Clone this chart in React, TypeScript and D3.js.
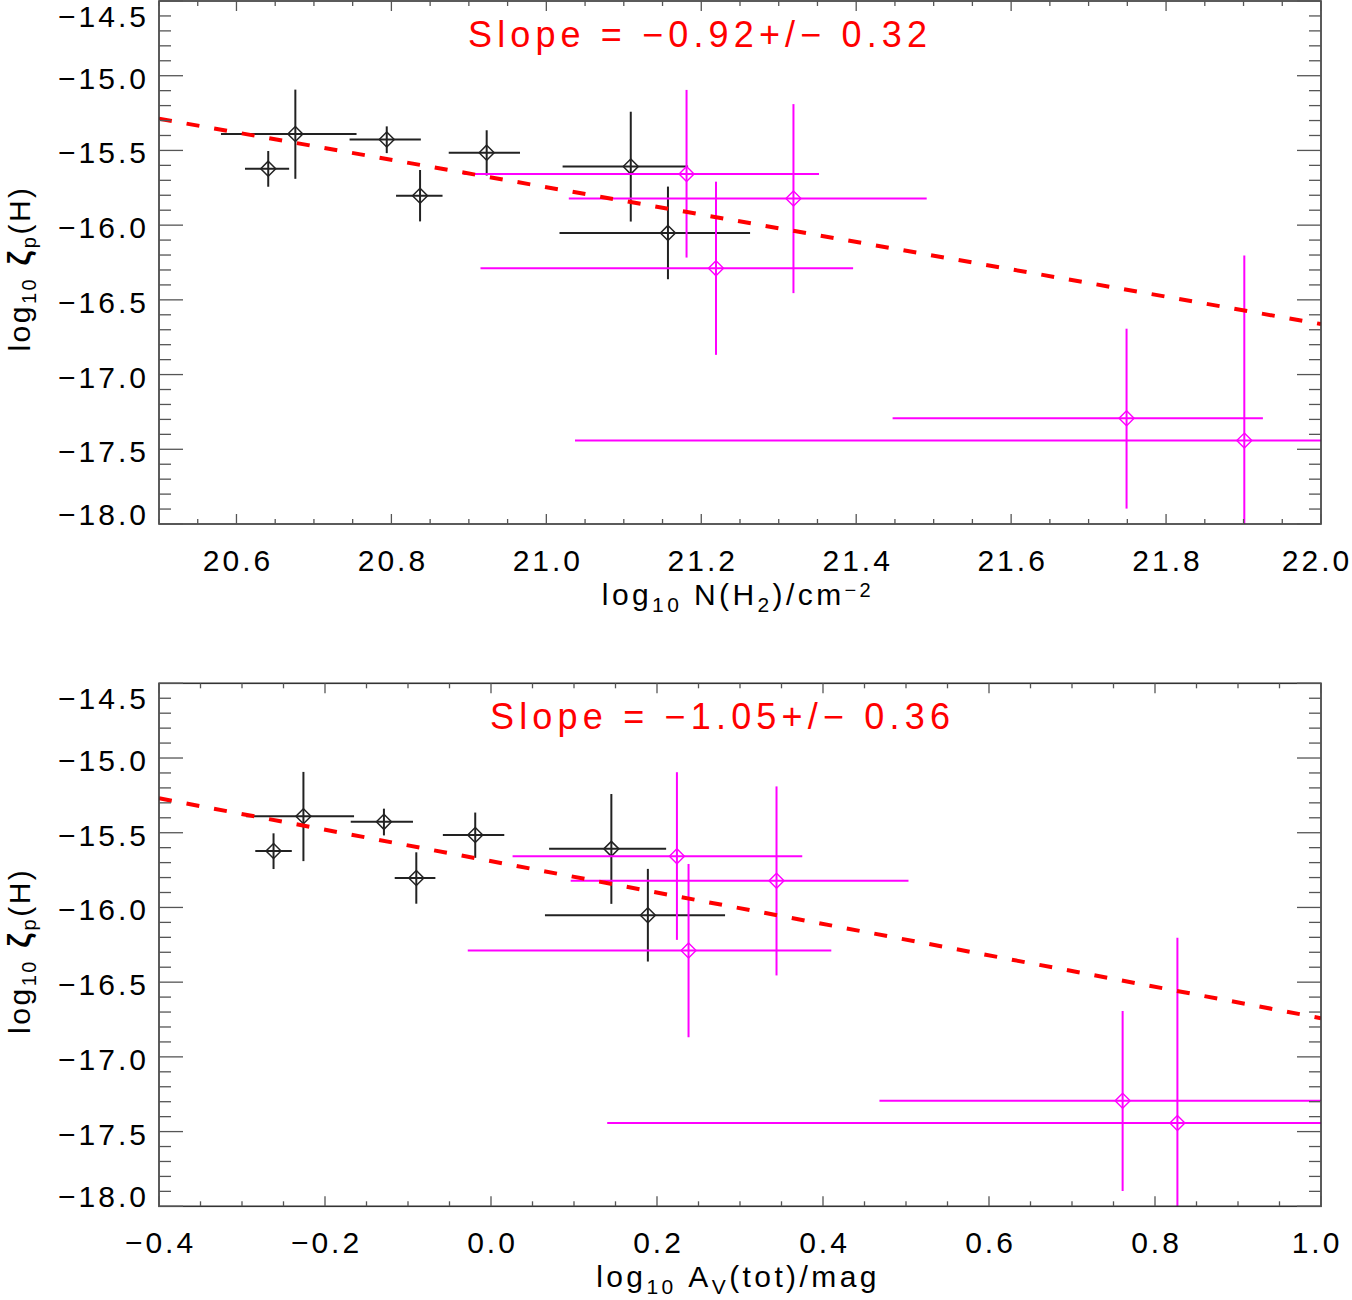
import React, { useRef, useEffect } from 'react';
import * as d3 from 'd3';

// log10 zeta_p(H) -- same values in both panels
const zetaBlack = [-15.622, -15.39, -15.427, -15.803, -15.515, -15.608, -16.052];
const zetaBlackLo = [-15.743, -15.69, -15.518, -15.975, -15.668, -15.976, -16.362];
const zetaBlackHi = [-15.504, -15.093, -15.339, -15.631, -15.365, -15.241, -15.742];
const zetaMag = [-15.657, -15.822, -16.288, -17.293, -17.442];
const zetaMagLo = [-16.217, -16.455, -16.868, -17.897, -18.4];
const zetaMagHi = [-15.095, -15.19, -15.709, -16.693, -16.203];

// log10 N(H2)
const nh2Black = [20.641, 20.676, 20.794, 20.837, 20.923, 21.109, 21.157];
const nh2BlackLo = [20.611, 20.58, 20.746, 20.806, 20.874, 21.021, 21.017];
const nh2BlackHi = [20.668, 20.755, 20.838, 20.866, 20.966, 21.183, 21.263];
const nh2Mag = [21.181, 21.319, 21.219, 21.749, 21.901];
const nh2MagLo = [20.893, 21.029, 20.915, 21.447, 21.037];
const nh2MagHi = [21.352, 21.491, 21.396, 21.925, 22.2];

// log10 Av(tot)
const avBlack = [-0.262, -0.226, -0.129, -0.09, -0.019, 0.145, 0.189];
const avBlackLo = [-0.284, -0.295, -0.169, -0.116, -0.058, 0.07, 0.065];
const avBlackHi = [-0.24, -0.165, -0.094, -0.067, 0.016, 0.211, 0.282];
const avMag = [0.224, 0.344, 0.238, 0.761, 0.827];
const avMagLo = [0.026, 0.096, -0.028, 0.468, 0.14];
const avMagHi = [0.375, 0.503, 0.41, 1.03, 1.2];

// linear fits
const fitNH2Slope = -0.916;
const fitNH2Intercept = 3.49;
const fitAvSlope = -1.051;
const fitAvIntercept = -15.69;

const slopeLabels = ['Slope = \u22120.92+/\u2212 0.32', 'Slope = \u22121.05+/\u2212 0.36'];

const xTicksNH2 = [20.6, 20.8, 21.0, 21.2, 21.4, 21.6, 21.8, 22.0];
const xTicksAv = [-0.4, -0.2, 0.0, 0.2, 0.4, 0.6, 0.8, 1.0];
const yTicks = [-14.5, -15.0, -15.5, -16.0, -16.5, -17.0, -17.5, -18.0];

const W = 1162;
const H = 523;
const LEFT = 159;
const FONT = "'Liberation Sans', Arial, sans-serif";

const App: React.FC = () => {
  const svgRef = useRef<SVGSVGElement | null>(null);

  useEffect(() => {
    const svg = d3.select(svgRef.current);
    svg.selectAll('*').remove();

    const panels = [
      {
        top: 1, xDomain: [20.5, 22.0], xTicks: xTicksNH2, xMinorStep: 0.05,
        black: { x: nh2Black, lo: nh2BlackLo, hi: nh2BlackHi },
        mag: { x: nh2Mag, lo: nh2MagLo, hi: nh2MagHi },
        slope: fitNH2Slope, intercept: fitNH2Intercept,
        label: slopeLabels[0], labelX: 468 - LEFT, labelLen: 459,
        xTitle: 'nh2',
      },
      {
        top: 683.3, xDomain: [-0.4, 1.0], xTicks: xTicksAv, xMinorStep: 0.05,
        black: { x: avBlack, lo: avBlackLo, hi: avBlackHi },
        mag: { x: avMag, lo: avMagLo, hi: avMagHi },
        slope: fitAvSlope, intercept: fitAvIntercept,
        label: slopeLabels[1], labelX: 490 - LEFT, labelLen: 460,
        xTitle: 'av',
      },
    ];

    const fmt = d3.format('.1f');

    panels.forEach((p, pi) => {
      const g = svg.append('g').attr('transform', `translate(${LEFT},${p.top})`);
      const x = d3.scaleLinear().domain(p.xDomain).range([0, W]);
      const y = d3.scaleLinear().domain([-18.0, -14.5]).range([H, 0]);

      const clipId = `clip-${pi}`;
      g.append('clipPath').attr('id', clipId)
        .append('rect').attr('width', W).attr('height', H);

      const plot = g.append('g').attr('clip-path', `url(#${clipId})`);

      const drawSeries = (
        s: { x: number[]; lo: number[]; hi: number[] },
        ys: number[], ylo: number[], yhi: number[],
        color: string, lw: number, dw: number,
      ) => {
        const pts = s.x.map((xv, i) => ({
          x: xv, xlo: s.lo[i], xhi: s.hi[i], y: ys[i], ylo: ylo[i], yhi: yhi[i],
        }));
        const sg = plot.append('g');
        sg.selectAll('.hbar').data(pts).enter().append('line')
          .attr('x1', d => x(d.xlo)).attr('x2', d => x(d.xhi))
          .attr('y1', d => y(d.y)).attr('y2', d => y(d.y))
          .attr('stroke', color).attr('stroke-width', lw);
        sg.selectAll('.vbar').data(pts).enter().append('line')
          .attr('x1', d => x(d.x)).attr('x2', d => x(d.x))
          .attr('y1', d => y(d.ylo)).attr('y2', d => y(d.yhi))
          .attr('stroke', color).attr('stroke-width', lw);
        const r = 7.5;
        sg.selectAll('.dia').data(pts).enter().append('path')
          .attr('d', d => {
            const cx = x(d.x), cy = y(d.y);
            return `M${cx},${cy - r}L${cx + r},${cy}L${cx},${cy + r}L${cx - r},${cy}Z`;
          })
          .attr('fill', 'none').attr('stroke', color).attr('stroke-width', dw);
      };

      drawSeries(p.black, zetaBlack, zetaBlackLo, zetaBlackHi, '#222', 2, 1.5);
      drawSeries(p.mag, zetaMag, zetaMagLo, zetaMagHi, '#ff00ff', 2, 1.4);

      // fit line
      const line = d3.line<number>().x(d => x(d)).y(d => y(p.intercept + p.slope * d));
      plot.append('path').datum(p.xDomain).attr('d', line)
        .attr('fill', 'none').attr('stroke', '#ff0000').attr('stroke-width', 4)
        .attr('stroke-dasharray', '13 15');

      // frame
      g.append('rect').attr('width', W).attr('height', H)
        .attr('fill', 'none').attr('stroke', '#333').attr('stroke-width', 1.6);

      // ticks on all four sides (inward)
      const ticks = g.append('g').attr('stroke', '#555').attr('stroke-width', 1.3);
      const xMinor = d3.range(p.xDomain[0], p.xDomain[1] + 1e-9, p.xMinorStep);
      xMinor.forEach(v => {
        const major = p.xTicks.some(t => Math.abs(t - v) < 1e-6);
        const len = major ? 10 : 5;
        ticks.append('line').attr('x1', x(v)).attr('x2', x(v)).attr('y1', H).attr('y2', H - len);
        ticks.append('line').attr('x1', x(v)).attr('x2', x(v)).attr('y1', 0).attr('y2', len);
      });
      const yMinor = d3.range(-18.0, -14.5 + 1e-9, 0.1);
      yMinor.forEach(v => {
        const major = yTicks.some(t => Math.abs(t - v) < 1e-6);
        const len = major ? 24 : 12;
        ticks.append('line').attr('x1', 0).attr('x2', len).attr('y1', y(v)).attr('y2', y(v));
        ticks.append('line').attr('x1', W).attr('x2', W - len).attr('y1', y(v)).attr('y2', y(v));
      });

      // tick labels
      const rightLimit = 1350 - LEFT;
      g.selectAll('.xl').data(p.xTicks).enter().append('text')
        .attr('x', d => Math.min(x(d) + 1.5, rightLimit - 33))
        .attr('y', H + 47)
        .attr('text-anchor', 'middle')
        .attr('font-family', FONT).attr('font-size', 30).attr('letter-spacing', 3)
        .attr('fill', '#000')
        .text(d => fmt(d));
      g.selectAll('.yl').data(yTicks).enter().append('text')
        .attr('x', -10).attr('y', d => {
          const py = y(d);
          if (py < 5) return 26;
          if (py > H - 5) return H + 1;
          return py + 13;
        })
        .attr('text-anchor', 'end')
        .attr('font-family', FONT).attr('font-size', 30).attr('letter-spacing', 3)
        .attr('fill', '#000')
        .text(d => fmt(d));

      // slope label
      g.append('text').attr('x', p.labelX).attr('y', 46)
        .attr('font-family', FONT).attr('font-size', 36)
        .attr('fill', '#ff0000')
        .attr('textLength', p.labelLen).attr('lengthAdjust', 'spacing')
        .style('white-space', 'pre')
        .text(p.label);

      // x title
      const xt = g.append('text').attr('x', W / 2 - 2).attr('y', H + 81)
        .attr('text-anchor', 'middle')
        .attr('font-family', FONT).attr('font-size', 30).attr('letter-spacing', 3.4)
        .attr('fill', '#000');
      if (p.xTitle === 'nh2') {
        xt.append('tspan').text('log');
        xt.append('tspan').attr('font-size', 21).attr('dy', 7).text('10');
        xt.append('tspan').attr('dy', -7).text('\u00a0N(H');
        xt.append('tspan').attr('font-size', 21).attr('dy', 7).text('2');
        xt.append('tspan').attr('dy', -7).text(')/cm');
        xt.append('tspan').attr('font-size', 20).attr('dy', -8).text('\u22122');
      } else {
        xt.append('tspan').text('log');
        xt.append('tspan').attr('font-size', 21).attr('dy', 7).text('10');
        xt.append('tspan').attr('dy', -7).text('\u00a0A');
        xt.append('tspan').attr('font-size', 21).attr('dy', 7).text('V');
        xt.append('tspan').attr('dy', -7).text('(tot)/mag');
      }

      // y title
      const yt = g.append('text')
        .attr('transform', `translate(${30 - LEFT},${H / 2 + 6}) rotate(-90)`)
        .attr('text-anchor', 'middle')
        .attr('font-family', FONT).attr('font-size', 30).attr('letter-spacing', 2.5)
        .attr('fill', '#000');
      yt.append('tspan').text('log');
      yt.append('tspan').attr('font-size', 20).attr('dy', 6).text('10');
      yt.append('tspan').attr('dy', -6).attr('font-weight', 'bold').attr('font-size', 32).text('\u00a0\u03b6');
      yt.append('tspan').attr('font-size', 20).attr('dy', 6).text('p');
      yt.append('tspan').attr('dy', -6).text('(H)');
    });
  }, []);

  return (
    <svg
      ref={svgRef}
      width={1352}
      height={1300}
      style={{ position: 'absolute', left: 0, top: 0, background: '#fff' }}
    />
  );
};

export default App;
